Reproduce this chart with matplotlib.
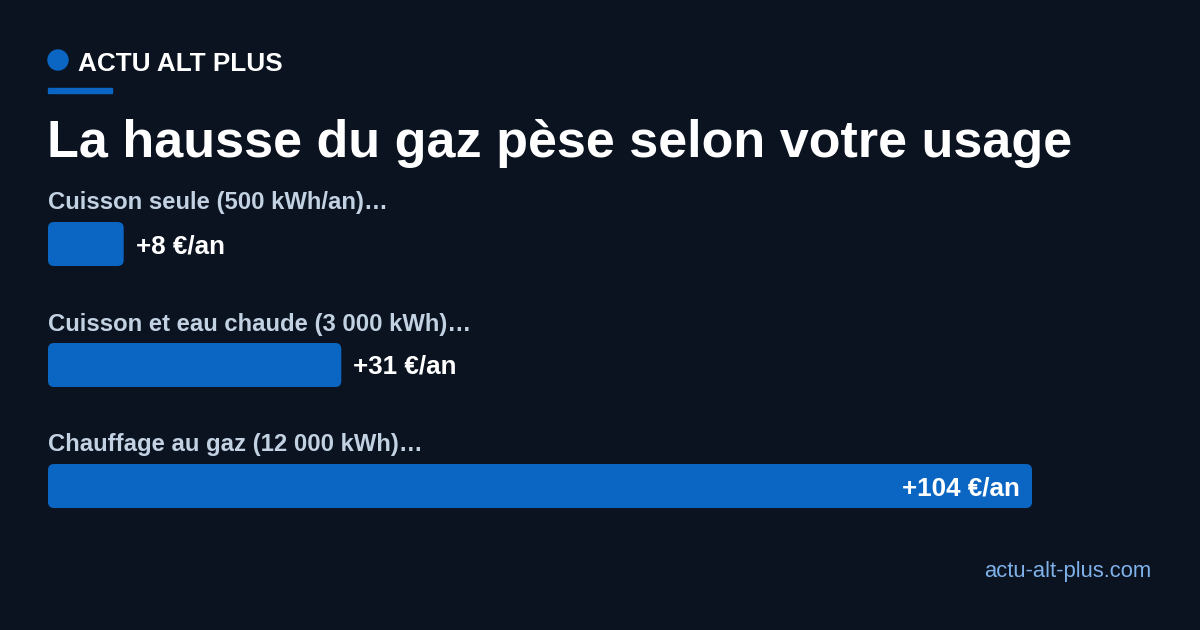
import matplotlib
matplotlib.use("Agg")
import matplotlib.pyplot as plt
from matplotlib.patches import FancyBboxPatch, Circle, Rectangle

# data
categories = ["Cuisson seule (500 kWh/an)…",
              "Cuisson et eau chaude (3 000 kWh)…",
              "Chauffage au gaz (12 000 kWh)…"]
values = [8, 31, 104]
value_labels = ["+8 €/an", "+31 €/an", "+104 €/an"]

title = "La hausse du gaz pèse selon votre usage"
brand = "ACTU ALT PLUS"
footer = "actu-alt-plus.com"

BG = "#0b1320"
BLUE = "#0a66c2"
LABEL_COL = "#c3d2e3"
FOOT_COL = "#7fb2ea"

plt.rcParams['font.family'] = ['Liberation Sans', 'DejaVu Sans']

fig = plt.figure(figsize=(12, 6.3), dpi=100, facecolor=BG)
ax = fig.add_axes([0, 0, 1, 1])
ax.set_xlim(0, 1200)
ax.set_ylim(630, 0)
ax.axis("off")
ax.set_facecolor(BG)

# header
ax.add_patch(Circle((58, 60), 10, color=BLUE))
ax.text(78, 64, brand, color="white", fontsize=18.8, fontweight="bold", va="center", ha="left")
ax.add_patch(Rectangle((48, 88), 64, 5, color=BLUE))
ax.text(47, 144, title, color="white", fontsize=37.5, fontweight="bold", va="center", ha="left")

# bars
x0 = 48
max_w = 984
px_per_unit = max_w / max(values)
bar_h = 44
label_y = [203, 324, 445]
for i, (cat, v, lab) in enumerate(zip(categories, values, value_labels)):
    top = label_y[i] + 19
    w = v * px_per_unit
    ax.text(x0, label_y[i], cat, color=LABEL_COL, fontsize=17.2, fontweight="bold", va="center", ha="left")
    ax.add_patch(FancyBboxPatch((x0, top), w, bar_h,
                                boxstyle="round,pad=0,rounding_size=6",
                                facecolor=BLUE, edgecolor="none"))
    cy = top + bar_h / 2 + 2
    if w > 300:
        ax.text(x0 + w - 12, cy, lab, color="white", fontsize=18.7, fontweight="bold", va="center", ha="right")
    else:
        ax.text(x0 + w + 12, cy, lab, color="white", fontsize=18.7, fontweight="bold", va="center", ha="left")

ax.text(1151, 572, footer, color=FOOT_COL, fontsize=15.8, va="center", ha="right")

fig.savefig("out.png", dpi=100, facecolor=BG)
